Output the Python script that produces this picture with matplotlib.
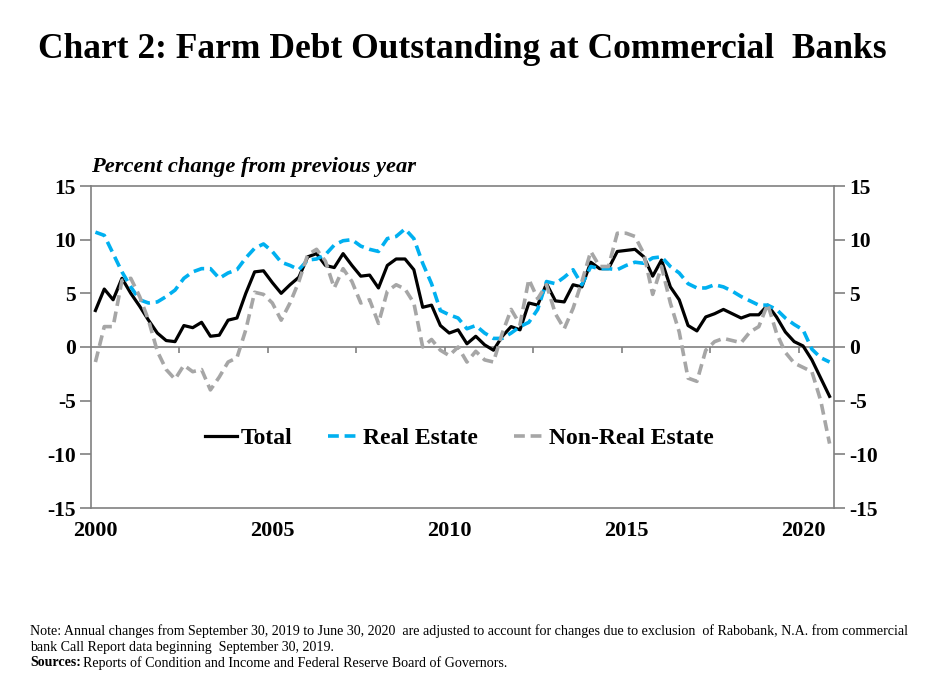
import numpy as np
import matplotlib
matplotlib.use("Agg")
import matplotlib.pyplot as plt

plt.rcParams['font.family'] = ['Liberation Serif', 'DejaVu Serif']
plt.rcParams['axes.unicode_minus'] = False

# quarterly, 2000Q1 .. 2020Q4
years = [2000 + q / 4 for q in range(84)]
year_labels = ['2000', '2005', '2010', '2015', '2020']

total = [3.4, 5.4, 4.4, 6.4, 5.0, 3.8, 2.5, 1.3, 0.6, 0.5,
         2.0, 1.8, 2.3, 1.0, 1.1, 2.5, 2.7, 5.0, 7.0, 7.1,
         6.0, 5.0, 5.8, 6.5, 8.4, 8.7, 7.6, 7.4, 8.7, 7.6,
         6.6, 6.7, 5.5, 7.6, 8.2, 8.2, 7.2, 3.7, 3.9, 2.0,
         1.3, 1.6, 0.3, 1.0, 0.2, -0.3, 1.0, 1.9, 1.6, 4.1,
         3.9, 5.9, 4.3, 4.2, 5.8, 5.6, 7.9, 7.3, 7.3, 8.9,
         9.0, 9.1, 8.4, 6.6, 8.1, 5.6, 4.4, 2.0, 1.5, 2.8,
         3.1, 3.5, 3.1, 2.7, 3.0, 3.0, 3.9, 2.8, 1.4, 0.5,
         0.1, -1.2, -2.9, -4.6]

real_estate = [10.7, 10.4, 8.7, 7.0, 5.6, 4.4, 4.1, 4.2, 4.7, 5.3,
               6.4, 7.0, 7.3, 7.3, 6.4, 6.9, 7.2, 8.3, 9.2, 9.6,
               8.9, 7.9, 7.6, 7.2, 8.1, 8.2, 8.6, 9.5, 9.9, 10.0,
               9.4, 9.1, 8.9, 10.1, 10.3, 11.0, 10.1, 7.8, 5.9, 3.4,
               3.0, 2.7, 1.7, 2.0, 1.3, 0.8, 0.8, 1.3, 1.9, 2.3,
               3.5, 6.1, 5.9, 6.5, 7.2, 5.8, 7.5, 7.3, 7.3, 7.2,
               7.6, 7.9, 7.8, 8.3, 8.4, 7.5, 6.9, 5.9, 5.5, 5.5,
               5.8, 5.6, 5.2, 4.7, 4.3, 3.9, 3.9, 3.5, 2.7, 2.1,
               1.6, -0.2, -1.0, -1.4]

non_real_estate = [-1.4, 1.9, 1.9, 6.2, 6.4, 4.7, 2.5, -0.4, -2.1, -3.0,
                   -1.7, -2.3, -2.1, -4.0, -2.8, -1.4, -1.0, 1.6, 5.1, 4.9,
                   4.1, 2.5, 4.1, 6.1, 8.6, 9.1, 8.0, 5.5, 7.3, 6.1,
                   4.1, 4.4, 2.2, 5.2, 5.8, 5.4, 4.1, 0.0, 0.7, -0.3,
                   -0.8, 0.0, -1.4, -0.4, -1.2, -1.4, 1.3, 3.5, 2.1, 6.3,
                   4.5, 5.8, 3.1, 1.7, 3.6, 6.1, 8.9, 7.5, 7.5, 10.6,
                   10.6, 10.3, 8.7, 4.9, 7.5, 4.1, 1.4, -2.9, -3.2, -0.3,
                   0.5, 0.8, 0.6, 0.4, 1.4, 1.9, 4.0, 1.3, -0.5, -1.5,
                   -1.9, -2.3, -5.0, -9.0]

series_names = ['Total', 'Real Estate', 'Non-Real Estate']

fig = plt.figure(figsize=(9.25, 6.93), dpi=100)
ax = fig.add_axes([91 / 925, 1 - 508 / 693, 743 / 925, 322 / 693])

x = np.arange(len(years))
ax.plot(x, total, color='black', lw=2.3, label=series_names[0])
ax.plot(x, real_estate, color='#00B0F0', lw=2.6, linestyle=(0, (3.0, 1.6)),
        label=series_names[1])
ax.plot(x, non_real_estate, color='#A6A6A6', lw=2.6, linestyle=(0, (3.0, 1.6)),
        label=series_names[2])

ax.set_xlim(-0.5, len(years) - 0.5)
ax.set_ylim(-15, 15)

# zero line with category tick marks every 10 quarters
ax.axhline(0, color='#808080', lw=1.2, zorder=1)
bounds = np.arange(9.5, len(years) - 1, 10)
ax.vlines(bounds, -0.55, 0, color='#808080', lw=1.2, zorder=1)

for s in ax.spines.values():
    s.set_color('#808080')
    s.set_linewidth(1.2)

label_idx = [years.index(float(y)) for y in year_labels]
ax.set_xticks(label_idx)
ax.set_xticklabels(year_labels)
ax.tick_params(axis='x', length=0, pad=9, labelsize=16)
for t in ax.get_xticklabels():
    t.set_fontweight('bold')

yt = np.arange(-15, 16, 5)
ax.set_yticks(yt)
ax.tick_params(axis='y', direction='out', length=8, width=1.2, color='#808080',
               labelsize=15.5, pad=3, left=True, right=True,
               labelleft=True, labelright=True)
for t in ax.get_yticklabels():
    t.set_fontweight('bold')

leg = ax.legend(loc='center', bbox_to_anchor=(0.496, 0.217), ncol=3, frameon=False,
                handlelength=1.35, handletextpad=0.15, columnspacing=1.5,
                prop={'weight': 'bold', 'size': 17})

fig.text(0.5, 1 - 50 / 693, 'Chart 2: Farm Debt Outstanding at Commercial  Banks',
         ha='center', va='center', fontsize=25.5, fontweight='bold')
fig.text(91 / 925, 1 - 172 / 693, 'Percent change from previous year',
         ha='left', va='baseline', fontsize=16.2, fontweight='bold', style='italic')

fs = 10.1
x0 = 30 / 925
fig.text(x0, 1 - 631 / 693,
         'Note: Annual changes from September 30, 2019 to June 30, 2020  are adjusted to '
         'account for changes due to exclusion  of Rabobank, N.A. from commercial',
         ha='left', va='center', fontsize=fs)
fig.text(x0, 1 - 647 / 693, 'bank Call Report data beginning  September 30, 2019.',
         ha='left', va='center', fontsize=fs)
src = fig.text(x0, 1 - 663 / 693, 'Sources:', ha='left', va='center',
               fontsize=fs, fontweight='bold')
r = fig.canvas.get_renderer()
bb = src.get_window_extent(renderer=r)
fig.text(bb.x1 / fig.bbox.width + 2 / 925, 1 - 663 / 693,
         'Reports of Condition and Income and Federal Reserve Board of Governors.',
         ha='left', va='center', fontsize=fs)

fig.savefig('out.png', dpi=100)
